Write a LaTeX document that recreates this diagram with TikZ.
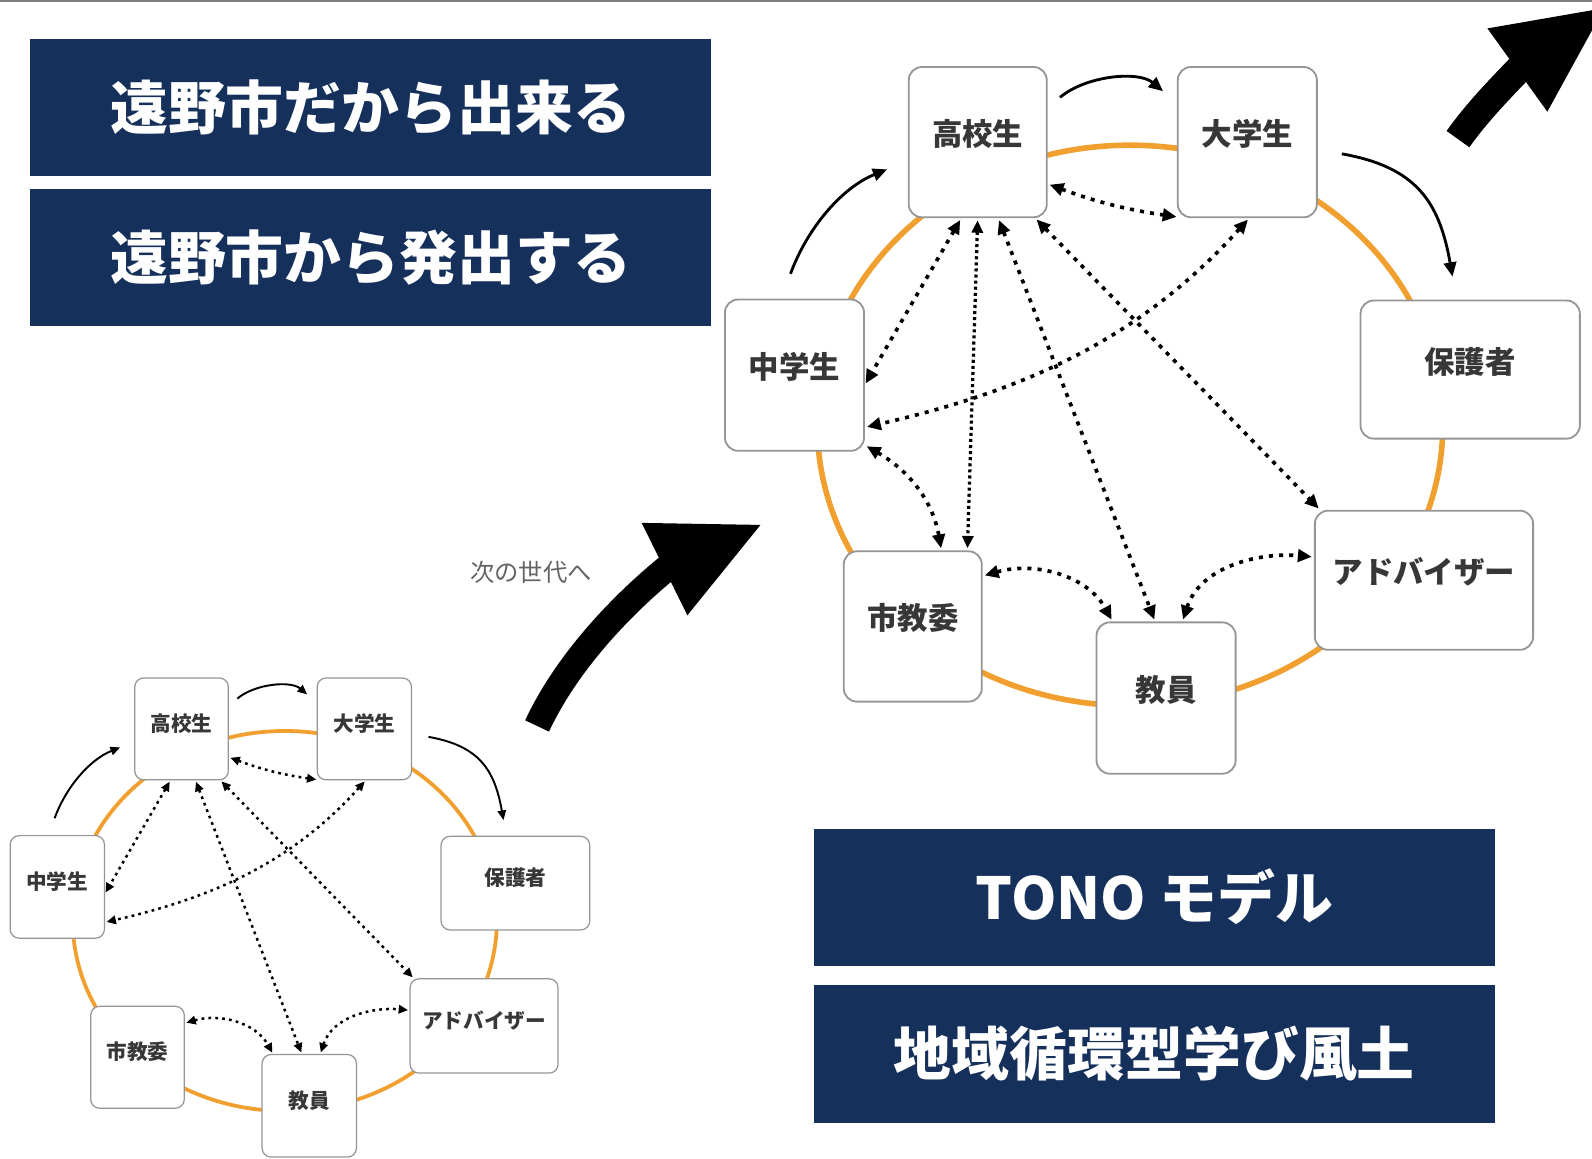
\documentclass[tikz,border=0pt]{standalone}
\usepackage{fontspec}
\setmainfont{Noto Sans CJK JP}
\usetikzlibrary{arrows.meta}
\definecolor{navy}{RGB}{21,48,90}
\definecolor{ringc}{RGB}{241,160,48}
\definecolor{boxln}{RGB}{150,150,150}
\definecolor{labc}{RGB}{55,55,55}
\definecolor{subc}{RGB}{100,100,100}
\def\tonoS{1}
\def\dashL{4}
\def\dashG{6}
\def\dotL{3}
\tikzset{
  ring/.style={draw=ringc, line width=\tonoS*5.5pt},
  pbox/.style={draw=boxln, fill=white, line width=\tonoS*1.8pt, rounded corners=\tonoS*13pt, inner sep=0pt, outer sep=0pt},
  plab/.style={font=\bfseries\fontsize{30}{36}\selectfont, text=labc, yshift=8pt, inner sep=0pt},
  solarr/.style={draw=black, line width=\tonoS*2.8pt, arrows={-Triangle[length=0pt 5, width=0pt 4.4]}},
  dotl/.style={draw=black, line width=\tonoS*3.6pt, dash pattern=on \dashL pt off \dashG pt, arrows={Triangle[length=0pt 3.8, width=0pt 3.4]-Triangle[length=0pt 3.8, width=0pt 3.4]}, shorten >=\tonoS*3pt, shorten <=\tonoS*3pt},
  dotf/.style={dotl, line width=\tonoS*3.2pt, dash pattern=on \dotL pt off \dotL pt},
  titlebox/.style={fill=navy, text=white, minimum width=670pt, minimum height=135pt, inner sep=0pt, font=\bfseries\fontsize{57}{62}\selectfont},
  bigarrow/.style={draw=black, line width=26pt},
}
\newcommand\tonoNodes{%
  \draw[ring] (1113,-419) ellipse [x radius=308, y radius=276];
  \node[pbox, minimum width=136pt, minimum height=148pt, label={[plab]center:高校生}] (hs) at (963,-140) {};
  \node[pbox, minimum width=137pt, minimum height=148pt, label={[plab]center:大学生}] (ds) at (1228.5,-140) {};
  \node[pbox, minimum width=137pt, minimum height=149pt, label={[plab]center:中学生}] (cs) at (782.5,-369.5) {};
  \node[pbox, minimum width=216pt, minimum height=136pt, label={[plab]center:保護者}] (hg) at (1448,-364) {};
  \node[pbox, minimum width=215pt, minimum height=137pt, label={[plab]center:アドバイザー}] (ad) at (1402.5,-571.5) {};
  \node[pbox, minimum width=136pt, minimum height=148pt, label={[plab]center:市教委}] (sk) at (899,-617) {};
  \node[pbox, minimum width=137pt, minimum height=149pt, label={[plab]center:教員}] (ky) at (1148.5,-687.5) {};
}
\newcommand\tonoLinks{%
  \draw[solarr, shorten <=\tonoS*27pt, shorten >=\tonoS*23pt] (cs.100) to[out=70, in=202] (hs.195);
  \draw[solarr, shorten <=\tonoS*17pt, shorten >=\tonoS*19pt] (hs.26) to[out=40, in=140] (ds.151);
  \draw[solarr, shorten <=\tonoS*25pt, shorten >=\tonoS*24pt] (ds.-6) to[out=-10, in=100, looseness=1.25] (hg.101);
  \draw[dotl] (hs.-31) to[bend right=6] (ds.-132);
  \draw[dotl] (hs.-102) -- (cs.-9);
  \draw[dotl] (ds.-88) .. controls +(-132:170pt) and +(13:150pt) .. (cs.-37);
  \draw[dotl] (hs.-75) -- (ky.98);
  \draw[dotl] (hs.-53) -- (ad.146);
  \draw[dotl] (sk.36) to[out=16, in=119] (ky.125);
  \draw[dotl] (ky.78) to[out=72, in=175] (ad.168);
}
\newcommand\tonoExtra{%
  \draw[dotf] (hs.-90) -- (sk.54);
  \draw[dotl] (cs.-45) to[out=-30, in=100] (sk.69);
}
\begin{document}
\begin{tikzpicture}[x=1pt,y=1pt]
\useasboundingbox (0,0) rectangle (1568,-1141);
\fill[white] (0,0) rectangle (1568,-1141);
\clip (0,0) rectangle (1568,-1141);
\draw[gray, line width=2pt] (0,-1) -- (1568,-1);
% title boxes
\node[titlebox] (t1) at (365,-105.5) {遠野市だから出来る};
\node[titlebox] (t2) at (365,-254) {遠野市から発出する};
\node[titlebox] (t3) at (1137,-883.5) {TONO モデル};
\node[titlebox, minimum height=136pt] (t4) at (1137,-1038) {地域循環型学び風土};
% big diagram
\begin{scope}[name prefix=b-]
  \tonoNodes
  \tonoLinks
  \tonoExtra
\end{scope}
% small diagram
\begin{scope}[shift={(-474.1,-623)}, scale=0.678, transform shape, name prefix=s-]
  \def\tonoS{0.678}\def\dashL{2.7}\def\dashG{4.1}\def\dotL{2}
  \tonoNodes
  \tonoLinks
\end{scope}
% next generation label
\node[font=\fontsize{24}{28}\selectfont, text=subc, inner sep=0pt] (nx) at (523,-563.5) {次の世代へ};
% big arrows
\draw[bigarrow] (529,-715) .. controls +(65:70pt) and +(219:60pt) .. (660,-557);
\fill[black] (632,-515) -- (749,-517) -- (677,-606) -- cycle;
\draw[bigarrow, line width=27.6pt] (1436,-137) .. controls +(55:30pt) and +(226:30pt) .. (1498,-66);
\fill[black] (1465,-28) -- (1580,-8) -- (1524,-110) -- cycle;
\end{tikzpicture}
\end{document}
